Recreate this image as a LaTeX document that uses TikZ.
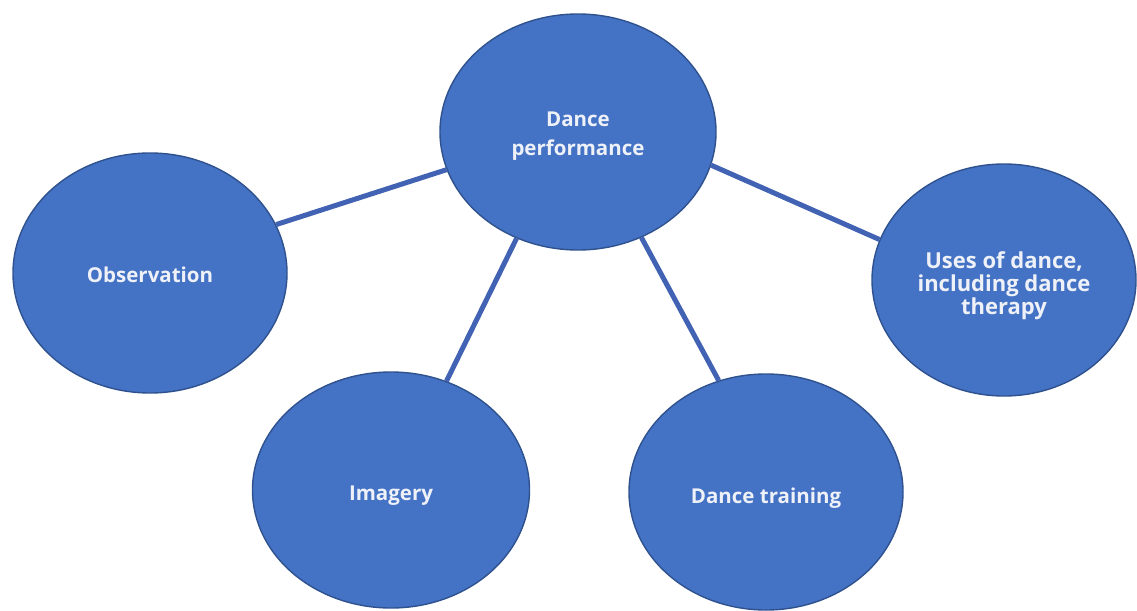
\documentclass[tikz,border=0pt]{standalone}
\usepackage{fontspec}
\setmainfont{Open Sans}
\usetikzlibrary{shapes.geometric}
\definecolor{ofill}{HTML}{4472C4}
\definecolor{oedge}{HTML}{2F528F}
\definecolor{olink}{HTML}{4263B3}
\definecolor{otext}{HTML}{EEF1F8}
\begin{document}
\begin{tikzpicture}[x=1pt,y=-1pt,
  bubble/.style={ellipse, fill=ofill, draw=oedge, line width=1.4pt, inner sep=0pt},
  txt/.style={text=otext, font=\bfseries\fontsize{20.5}{22.5}\selectfont, align=center, inner sep=0pt},
  link/.style={draw=olink, line width=5pt}]
\useasboundingbox[fill=white] (0,0) rectangle (1137,610);
\node[bubble, minimum width=276pt, minimum height=236pt] (c) at (578,132) {};
\node[bubble, minimum width=274pt, minimum height=240pt] (o) at (150,273) {};
\node[bubble, minimum width=264pt, minimum height=232pt] (u) at (1004,280) {};
\node[bubble, minimum width=277pt, minimum height=236pt] (i) at (391,490) {};
\node[bubble, minimum width=274pt, minimum height=236pt] (t) at (766,492) {};
\node[txt] (ct) at ([yshift=-4pt]c.center) {Dance\\[7pt]performance};
\node[txt] (ot) at ([yshift=-2pt]o.center) {Observation};
\node[txt, font=\bfseries\fontsize{22}{23}\selectfont] (ut) at ([yshift=-6pt]u.center) {Uses of dance,\\including dance\\therapy};
\node[txt] (it) at ([yshift=-6pt]i.center) {Imagery};
\node[txt] (tt) at ([yshift=-6pt]t.center) {Dance training};
\draw[link] (c.196) -- (o.21);
\draw[link] (c.-14) -- (u.162);
\draw[link] (c.240.5) -- (i.63);
\draw[link] (c.301.8) -- (t.113.6);
\end{tikzpicture}
\end{document}
